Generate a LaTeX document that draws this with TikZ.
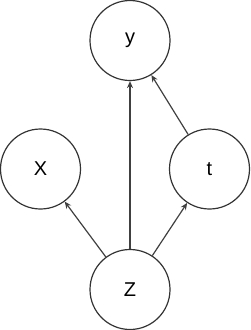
\documentclass[tikz,border=0pt]{standalone}
\usepackage{fontspec}
\setsansfont{Liberation Sans}
\usetikzlibrary{arrows.meta}

\begin{document}
\begin{tikzpicture}[
  x=1pt,y=-1pt,
  every node/.style={font=\sffamily},
  varnode/.style={circle,draw=black!80,line width=1.2pt,minimum size=80pt,inner sep=0pt,
    font=\sffamily\fontsize{20}{22}\selectfont},
  causearrow/.style={-{Stealth[length=7pt,width=6pt]},draw=black!75,line width=1.2pt},
]

% ---------- Canvas ----------
\useasboundingbox (0,0) rectangle (250,330);

% ---------- Variables ----------
\node[varnode] (Y) at (130,40.5) {y};
\node[varnode] (X) at (40.5,169) {X};
\node[varnode] (T) at (209.5,169) {t};
\node[varnode] (Z) at (130,289.5) {Z};

% ---------- Causal arrows ----------
\draw[causearrow] (Z) -- (Y);
\draw[causearrow] (Z) -- (X);
\draw[causearrow] (Z) -- (T);
\draw[causearrow] (T) -- (Y);

\end{tikzpicture}
\end{document}
